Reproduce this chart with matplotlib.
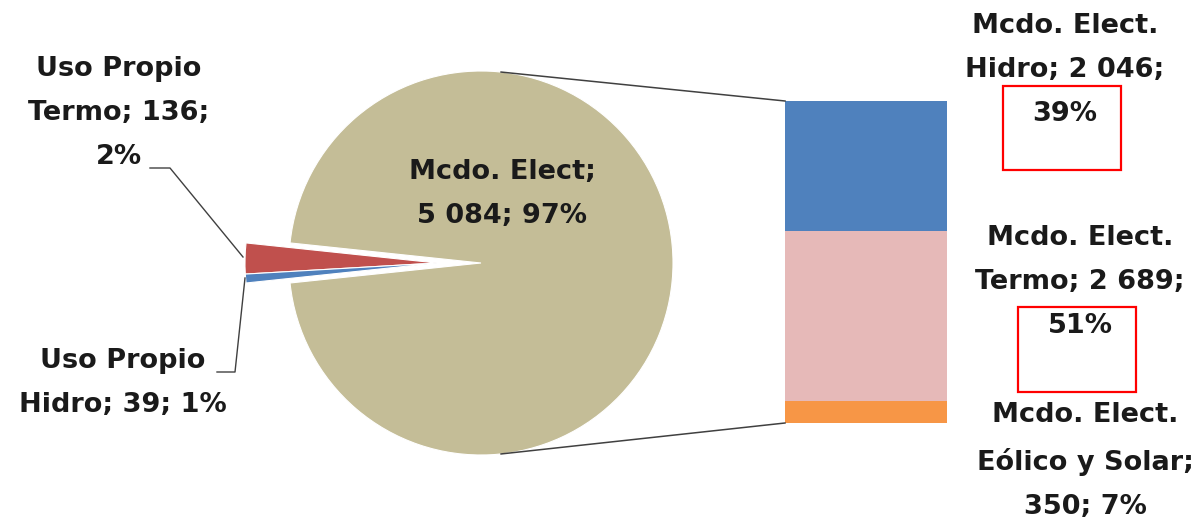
import numpy as np
import matplotlib
matplotlib.use("Agg")
import matplotlib.pyplot as plt
from matplotlib.patches import Rectangle

# ── data ───────────────────────────────────────────────
pie_labels = ["Uso Propio\nTermo", "Uso Propio\nHidro", "Mcdo. Elect"]
pie_values = [136, 39, 5084]
pie_pcts = ["2%", "1%", "97%"]
pie_colors = ["#C0504D", "#4F81BD", "#C4BD97"]

bar_labels = ["Mcdo. Elect.\nHidro", "Mcdo. Elect.\nTermo", "Mcdo. Elect.\nEólico y Solar"]
bar_values = [2046, 2689, 350]
bar_pcts = ["39%", "51%", "7%"]
bar_colors = ["#4F81BD", "#E6B9B8", "#F79646"]


def fmt(v):
    return f"{v:,}".replace(",", " ")


plt.rcParams["font.family"] = "DejaVu Sans"
plt.rcParams["font.weight"] = "bold"

W, H = 1201, 526
fig = plt.figure(figsize=(W / 100, H / 100), dpi=100)
ax = fig.add_axes([0, 0, 1, 1])

# ── main pie ───────────────────────────────────────────
cx, cy, r = 481, 263, 192
wedges, _ = ax.pie(pie_values, center=(cx, cy), radius=r, startangle=174,
                   colors=pie_colors,
                   wedgeprops=dict(edgecolor="white", linewidth=0.8))
# pull the two own-use slices out together, to the left
for w in wedges[:2]:
    w.set_center((cx - 44, cy))

# ── stacked bar for the market breakdown ───────────────
bar_x, bar_w = 866, 162
bar_top, bar_bot = 425, 103
scale = (bar_top - bar_bot) / sum(bar_values)
bottom = bar_top
for val, col in zip(bar_values, bar_colors):
    h = val * scale
    bottom -= h
    ax.bar(bar_x, h, width=bar_w, bottom=bottom, color=col, linewidth=0)

# connector lines pie -> bar
ang = np.deg2rad(84)
ax.plot([cx + r * np.cos(ang), bar_x - bar_w / 2], [cy + r * np.sin(ang), bar_top],
        color="#404040", lw=1.1)
ax.plot([cx + r * np.cos(ang), bar_x - bar_w / 2], [cy - r * np.sin(ang), bar_bot],
        color="#404040", lw=1.1)

# ── labels ──────────────────────────────────────────────
txt = dict(ha="center", va="center", fontsize=19.5, fontweight="bold",
           linespacing=1.92, color="#1a1a1a")

ax.text(119, 413, f"{pie_labels[0]}; {fmt(pie_values[0])};\n{pie_pcts[0]}", **txt)
ax.text(123, 143, f"{pie_labels[1]}; {fmt(pie_values[1])}; {pie_pcts[1]}", **txt)
ax.text(502, 332, f"{pie_labels[2]};\n{fmt(pie_values[2])}; {pie_pcts[2]}", **txt)

ax.text(1065, 456, f"{bar_labels[0]}; {fmt(bar_values[0])};\n{bar_pcts[0]}", **txt)
ax.text(1080, 244, f"{bar_labels[1]}; {fmt(bar_values[1])};\n{bar_pcts[1]}", **txt)
ax.text(1085, 65, f"{bar_labels[2]};\n{fmt(bar_values[2])}; {bar_pcts[2]}", **txt)

# leader lines for the small slices
ax.plot([150, 170, 243], [358, 358, 269], color="#404040", lw=1.0)
ax.plot([217, 235, 245], [154, 154, 248], color="#404040", lw=1.0)

# highlight boxes around the market shares
ax.add_patch(Rectangle((1003, H - 170), 118, 84, fill=False, edgecolor="#FF0000", lw=1.6))
ax.add_patch(Rectangle((1018, H - 392), 118, 85, fill=False, edgecolor="#FF0000", lw=1.6))

ax.set_xlim(0, W)
ax.set_ylim(0, H)
ax.set_aspect("auto")
ax.axis("off")

fig.savefig("out.png", dpi=100, facecolor="white")
